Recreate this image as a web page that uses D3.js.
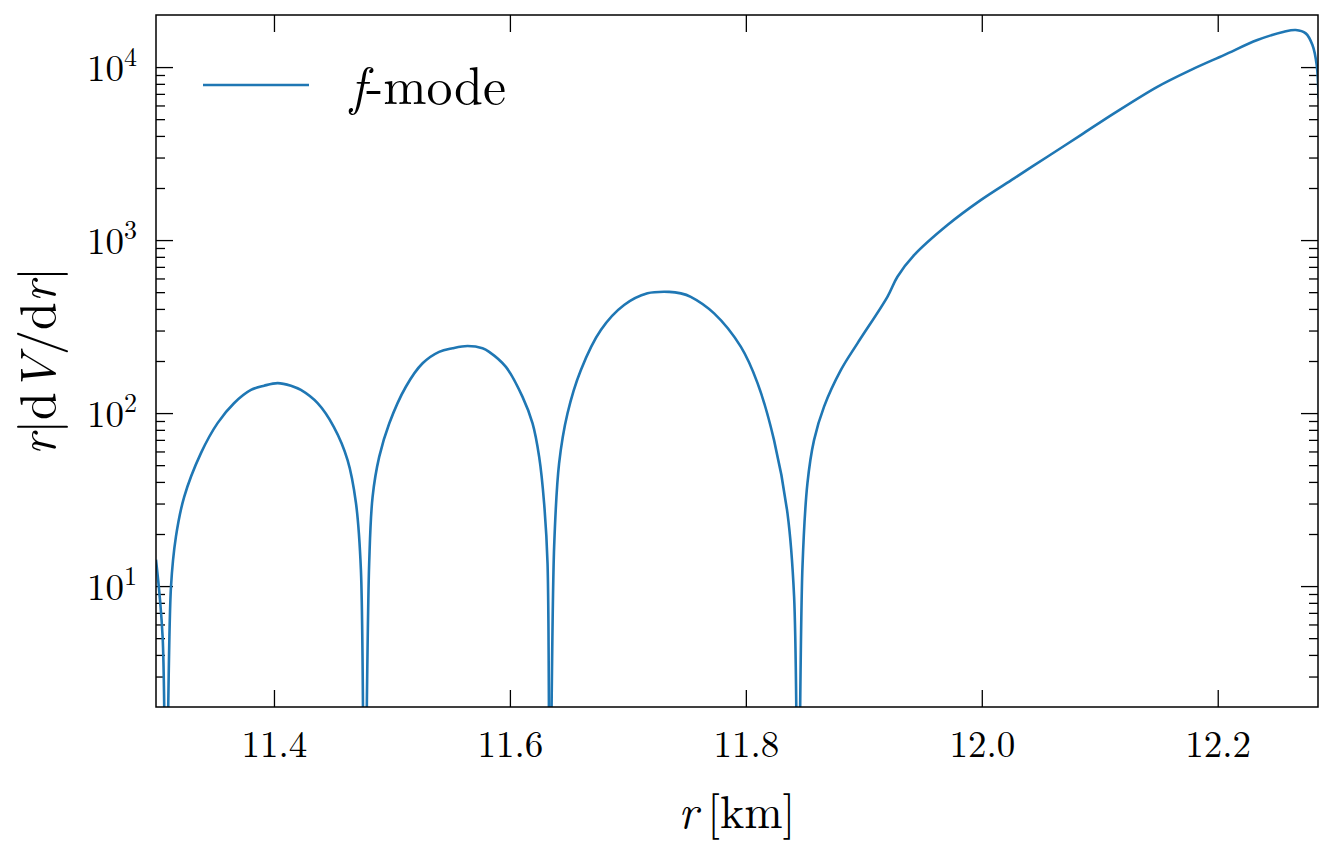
<!DOCTYPE html>
<html>
<head>
<meta charset="utf-8">
<script src="https://cdn.jsdelivr.net/npm/d3@7"></script>
<style>
  body { margin: 0; background: #fff; }
</style>
</head>
<body>
<div id="plotRegi"></div>
<script>
// radius [km]
var r_km = [11.300, 11.3056, 11.3084, 11.3127, 11.3169, 11.3239, 11.3381, 11.3522, 11.3661, 11.3805,
            11.3917, 11.4031, 11.4144, 11.4228, 11.4370, 11.4508, 11.4624, 11.4695, 11.4737, 11.4767,
            11.4807, 11.4836, 11.4892, 11.4977, 11.5118, 11.5260, 11.5400, 11.5514, 11.5641, 11.5768,
            11.5824, 11.5966, 11.6107, 11.6192, 11.6248, 11.6290, 11.6319, 11.6338, 11.6375, 11.6417,
            11.6488, 11.6601, 11.6771, 11.6968, 11.7166, 11.7350, 11.7449, 11.7533, 11.7731, 11.7957,
            11.8099, 11.8239, 11.8353, 11.8409, 11.8443, 11.8480, 11.8522, 11.8578, 11.8663, 11.8805,
            11.8946, 11.9200, 11.9285, 11.9426, 11.9709, 11.9991, 12.0274, 12.0556, 12.0839, 12.1121,
            12.1488, 12.1770, 12.2053, 12.2336, 12.2562, 12.2661, 12.2746, 12.2803, 12.2839, 12.2855]

// r|dV/dr| (the 0.3 entries are the zero crossings, they fall below the axis)
var dVdr = [14.2, 5.1, 0.3, 9.9, 19.3, 32.8, 58.7, 87.5, 114, 136,
            144, 149, 144, 136, 114, 83, 53.5, 30.2, 12.4, 0.3,
            13.5, 32.8, 55.8, 87.1, 142, 194, 226, 237, 244, 237,
            226, 185, 124, 87.1, 55.8, 30.1, 13.5, 0.3, 16.9, 51.2,
            99.5, 177, 302, 421, 492, 502, 492, 470, 377, 242,
            149, 69.8, 26.3, 8.7, 0.3, 12.9, 39.2, 69.8, 109, 177,
            253, 470, 614, 818, 1222, 1702, 2274, 3032, 4044, 5400,
            7691, 9608, 11730, 14330, 16000, 16370, 15660, 13400, 10270, 6590]

var x_ticks = [11.4, 11.6, 11.8, 12.0, 12.2]
var y_ticks = [10, 100, 1000, 10000]
var y_exps = ["1", "2", "3", "4"]
var series_name = "-mode"

var serif = "'Latin Modern Roman', 'Liberation Serif', monospace"

var margin = { top: 15, right: 17, bottom: 143, left: 156 },
    width = 1335 - margin.left - margin.right,
    height = 850 - margin.top - margin.bottom

var scale_x = d3.scaleLinear().domain([11.3, 12.285]).range([0, width])
var scale_y = d3.scaleLog().domain([2, 20000]).range([height, 0])

var svg = d3.select("#plotRegi")
    .append("svg")
    .attr("width", 1335)
    .attr("height", 850)

var canvas = svg.append("g")
    .attr("transform", "translate(" + margin.left + "," + margin.top + ")")

svg.append("defs").append("clipPath").attr("id", "clip")
    .append("rect").attr("width", width).attr("height", height)

// minor ticks for log axis
var minor = []
for (var k = 0; k < 5; k++) {
    for (var m = 2; m <= 9; m++) {
        var v = m * Math.pow(10, k)
        if (v > 2 && v < 20000) minor.push(v)
    }
}

// X axis (bottom + top), inward ticks
canvas.append("g")
    .attr("transform", "translate(0," + height + ")")
    .call(d3.axisBottom(scale_x).tickValues(x_ticks).tickSize(-17).tickFormat(d3.format(".1f")))
    .call(g => g.select(".domain").remove())
    .call(g => g.selectAll("text").attr("y", 50).attr("dy", null).style("font-size", "37px"))

canvas.append("g")
    .call(d3.axisTop(scale_x).tickValues(x_ticks).tickSize(-17).tickFormat(""))
    .call(g => g.select(".domain").remove())

// Y axis (left + right)
canvas.append("g")
    .call(d3.axisLeft(scale_y).tickValues(y_ticks).tickSize(-17).tickFormat(""))
    .call(g => g.select(".domain").remove())
canvas.append("g")
    .call(d3.axisLeft(scale_y).tickValues(minor).tickSize(-9).tickFormat(""))
    .call(g => g.select(".domain").remove())
canvas.append("g")
    .attr("transform", "translate(" + width + ",0)")
    .call(d3.axisRight(scale_y).tickValues(y_ticks).tickSize(-17).tickFormat(""))
    .call(g => g.select(".domain").remove())
canvas.append("g")
    .attr("transform", "translate(" + width + ",0)")
    .call(d3.axisRight(scale_y).tickValues(minor).tickSize(-9).tickFormat(""))
    .call(g => g.select(".domain").remove())

canvas.selectAll(".tick line").attr("stroke", "#000").attr("stroke-width", 1.3)

// y tick labels 10^n
var ylab = canvas.append("g").selectAll("text")
    .data(y_ticks)
    .enter()
    .append("text")
    .attr("x", -19)
    .attr("y", d => scale_y(d) + 14)
    .attr("text-anchor", "end")
    .style("font-size", "37px")
ylab.append("tspan").text("10")
ylab.append("tspan").attr("dy", -15).style("font-size", "26px").text((d, i) => y_exps[i])

// curve
var line = d3.line()
    .x(d => scale_x(d[0]))
    .y(d => scale_y(d[1]))
    .curve(d3.curveCatmullRom.alpha(0.5))

canvas.append("g").attr("clip-path", "url(#clip)")
    .append("path")
    .datum(d3.zip(r_km, dVdr))
    .attr("d", line)
    .attr("fill", "none")
    .attr("stroke", "#1f77b4")
    .attr("stroke-width", 2.6)

// frame
canvas.append("rect")
    .attr("width", width).attr("height", height)
    .attr("fill", "none").attr("stroke", "#000").attr("stroke-width", 1.5)

// legend
canvas.append("line")
    .attr("x1", 47).attr("x2", 153).attr("y1", 70).attr("y2", 70)
    .attr("stroke", "#1f77b4").attr("stroke-width", 2.6)
var leg = canvas.append("text").attr("x", 194).attr("y", 89).style("font-size", "52px")
leg.append("tspan").style("font-style", "italic").text("f")
leg.append("tspan").text(series_name)

// axis labels
var xl = svg.append("text")
    .attr("x", margin.left + width / 2).attr("y", 828)
    .attr("text-anchor", "middle").style("font-size", "46px")
xl.append("tspan").style("font-style", "italic").text("r")
xl.append("tspan").text("\u2009[km]")

var yl = svg.append("text")
    .attr("transform", "translate(55," + (margin.top + height / 2) + ") rotate(-90)")
    .attr("text-anchor", "middle").style("font-size", "50px")
yl.append("tspan").style("font-style", "italic").text("r")
yl.append("tspan").text("|d")
yl.append("tspan").style("font-style", "italic").text("V")
yl.append("tspan").text("/d")
yl.append("tspan").style("font-style", "italic").text("r")
yl.append("tspan").text("|")

// font on every text element
svg.selectAll("text").style("font-family", serif).attr("fill", "#000")
</script>
</body>
</html>
